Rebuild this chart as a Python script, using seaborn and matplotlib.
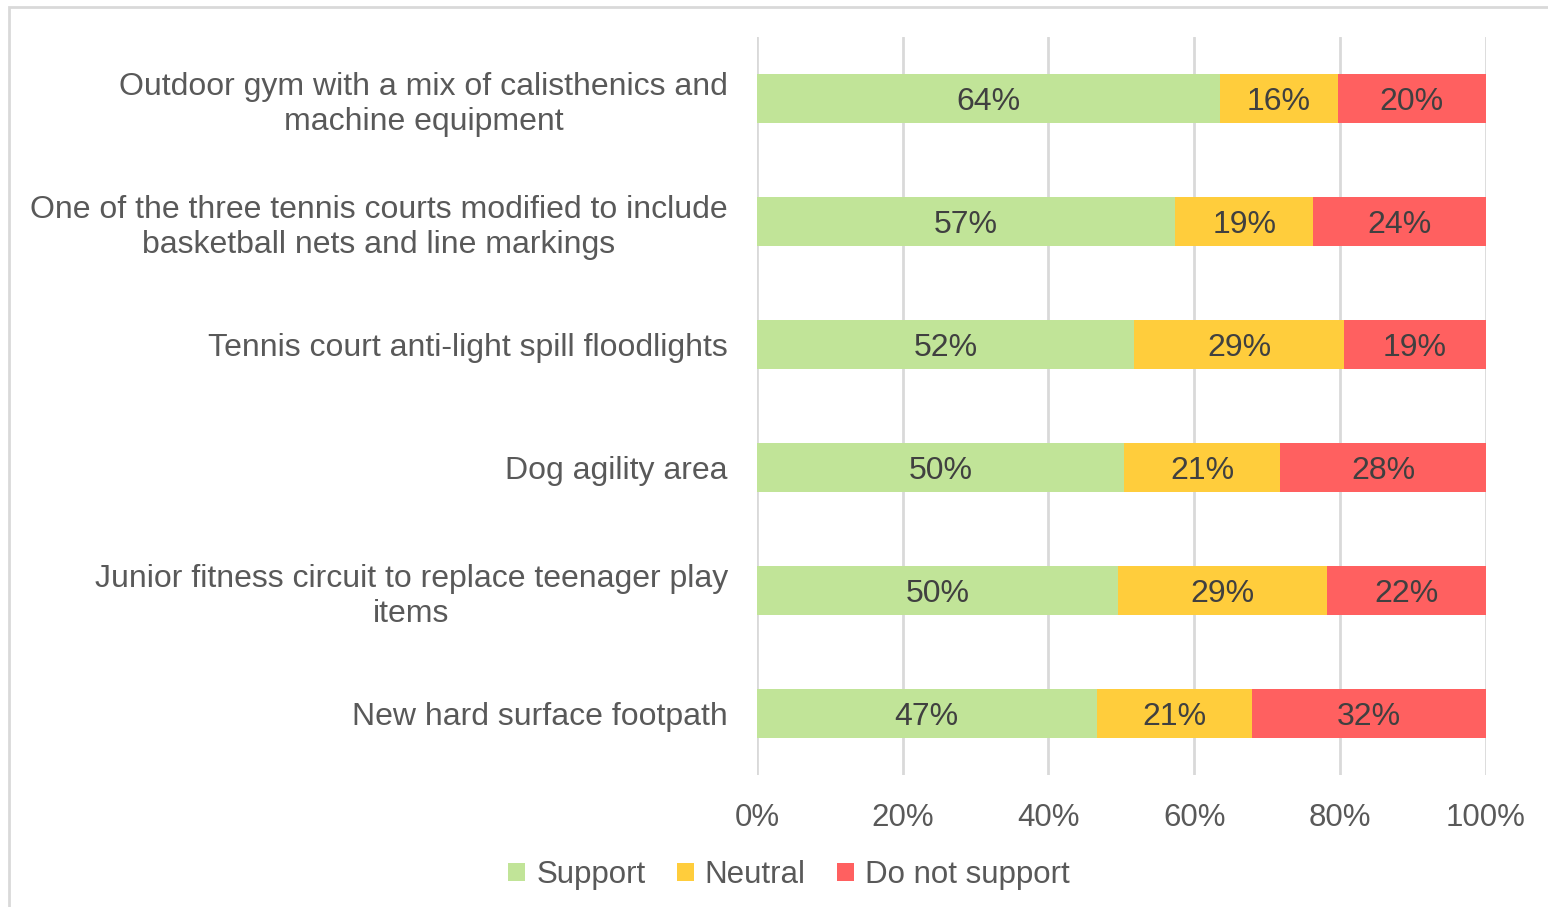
import pandas as pd
import seaborn as sns
import matplotlib.pyplot as plt
from matplotlib.patches import Rectangle, Patch
from matplotlib.ticker import PercentFormatter

categories = [
    "Outdoor gym with a mix of calisthenics and\nmachine equipment",
    "One of the three tennis courts modified to include\nbasketball nets and line markings",
    "Tennis court anti-light spill floodlights",
    "Dog agility area",
    "Junior fitness circuit to replace teenager play\nitems",
    "New hard surface footpath",
]
support = [63.6, 57.4, 51.7, 50.4, 49.6, 46.6]
neutral = [16.1, 18.9, 28.9, 21.4, 28.6, 21.3]
not_support = [20.3, 23.7, 19.4, 28.2, 21.8, 32.1]

series = ["Support", "Neutral", "Do not support"]
colors = ["#C1E498", "#FFCD3C", "#FF6060"]
text_col = "#595959"
label_col = "#404040"

df = pd.DataFrame({"category": categories, "Support": support,
                   "Neutral": neutral, "Do not support": not_support})
df["c1"] = df["Support"]
df["c2"] = df["Support"] + df["Neutral"]
df["c3"] = df["c2"] + df["Do not support"]

sns.set_theme(style="white")
plt.rcParams["font.family"] = ["Liberation Sans", "DejaVu Sans"]

fig = plt.figure(figsize=(15.48, 9.07), dpi=100)
ax = fig.add_axes([757 / 1548, 1 - 775 / 907, (1485.7 - 757) / 1548, (775 - 37) / 907])

# stacked look: draw cumulative totals back to front
for col, c in zip(["c3", "c2", "c1"], colors[::-1]):
    sns.barplot(data=df, y="category", x=col, orient="h", color=c,
                width=0.4, saturation=1, linewidth=0, ax=ax, zorder=3)

starts = [[0] * len(df), list(df["c1"]), list(df["c2"])]
for k, s in enumerate(series):
    for i, v in enumerate(df[s]):
        ax.text(starts[k][i] + v / 2, i, f"{round(v):.0f}%", ha="center",
                va="center_baseline", fontsize=23, color=label_col, zorder=4)

ax.set_xlim(0, 100)
ax.set_ylim(5.5, -0.5)
ax.set_xticks(range(0, 101, 20))
ax.xaxis.set_major_formatter(PercentFormatter(decimals=0))
ax.grid(axis="x", color="#D9D9D9", linewidth=2, zorder=0)
ax.grid(axis="y", visible=False)
for sp in ax.spines.values():
    sp.set_visible(False)
ax.set_xlabel("")
ax.set_ylabel("")
ax.tick_params(axis="x", length=0, pad=20, labelsize=22.5, labelcolor=text_col)
ax.tick_params(axis="y", length=0, pad=21, labelsize=23, labelcolor=text_col)
for t in ax.get_yticklabels():
    t.set_multialignment("center")
    t.set_linespacing(1.22)

handles = [Patch(facecolor=c, edgecolor="none") for c in colors]
leg = fig.legend(handles, series, loc="center", bbox_to_anchor=(789 / 1548, 1 - 875 / 907),
                 ncol=3, frameon=False, fontsize=22.5, handlelength=0.55, handleheight=0.55,
                 handletextpad=0.35, columnspacing=1.0)
for t in leg.get_texts():
    t.set_color(text_col)

fig.patches.append(Rectangle((9 / 1548, -0.2), 1.5, 1.2 - 7 / 907, fill=False,
                             edgecolor="#D9D9D9", linewidth=2, transform=fig.transFigure))

fig.savefig("out.png", dpi=100)
